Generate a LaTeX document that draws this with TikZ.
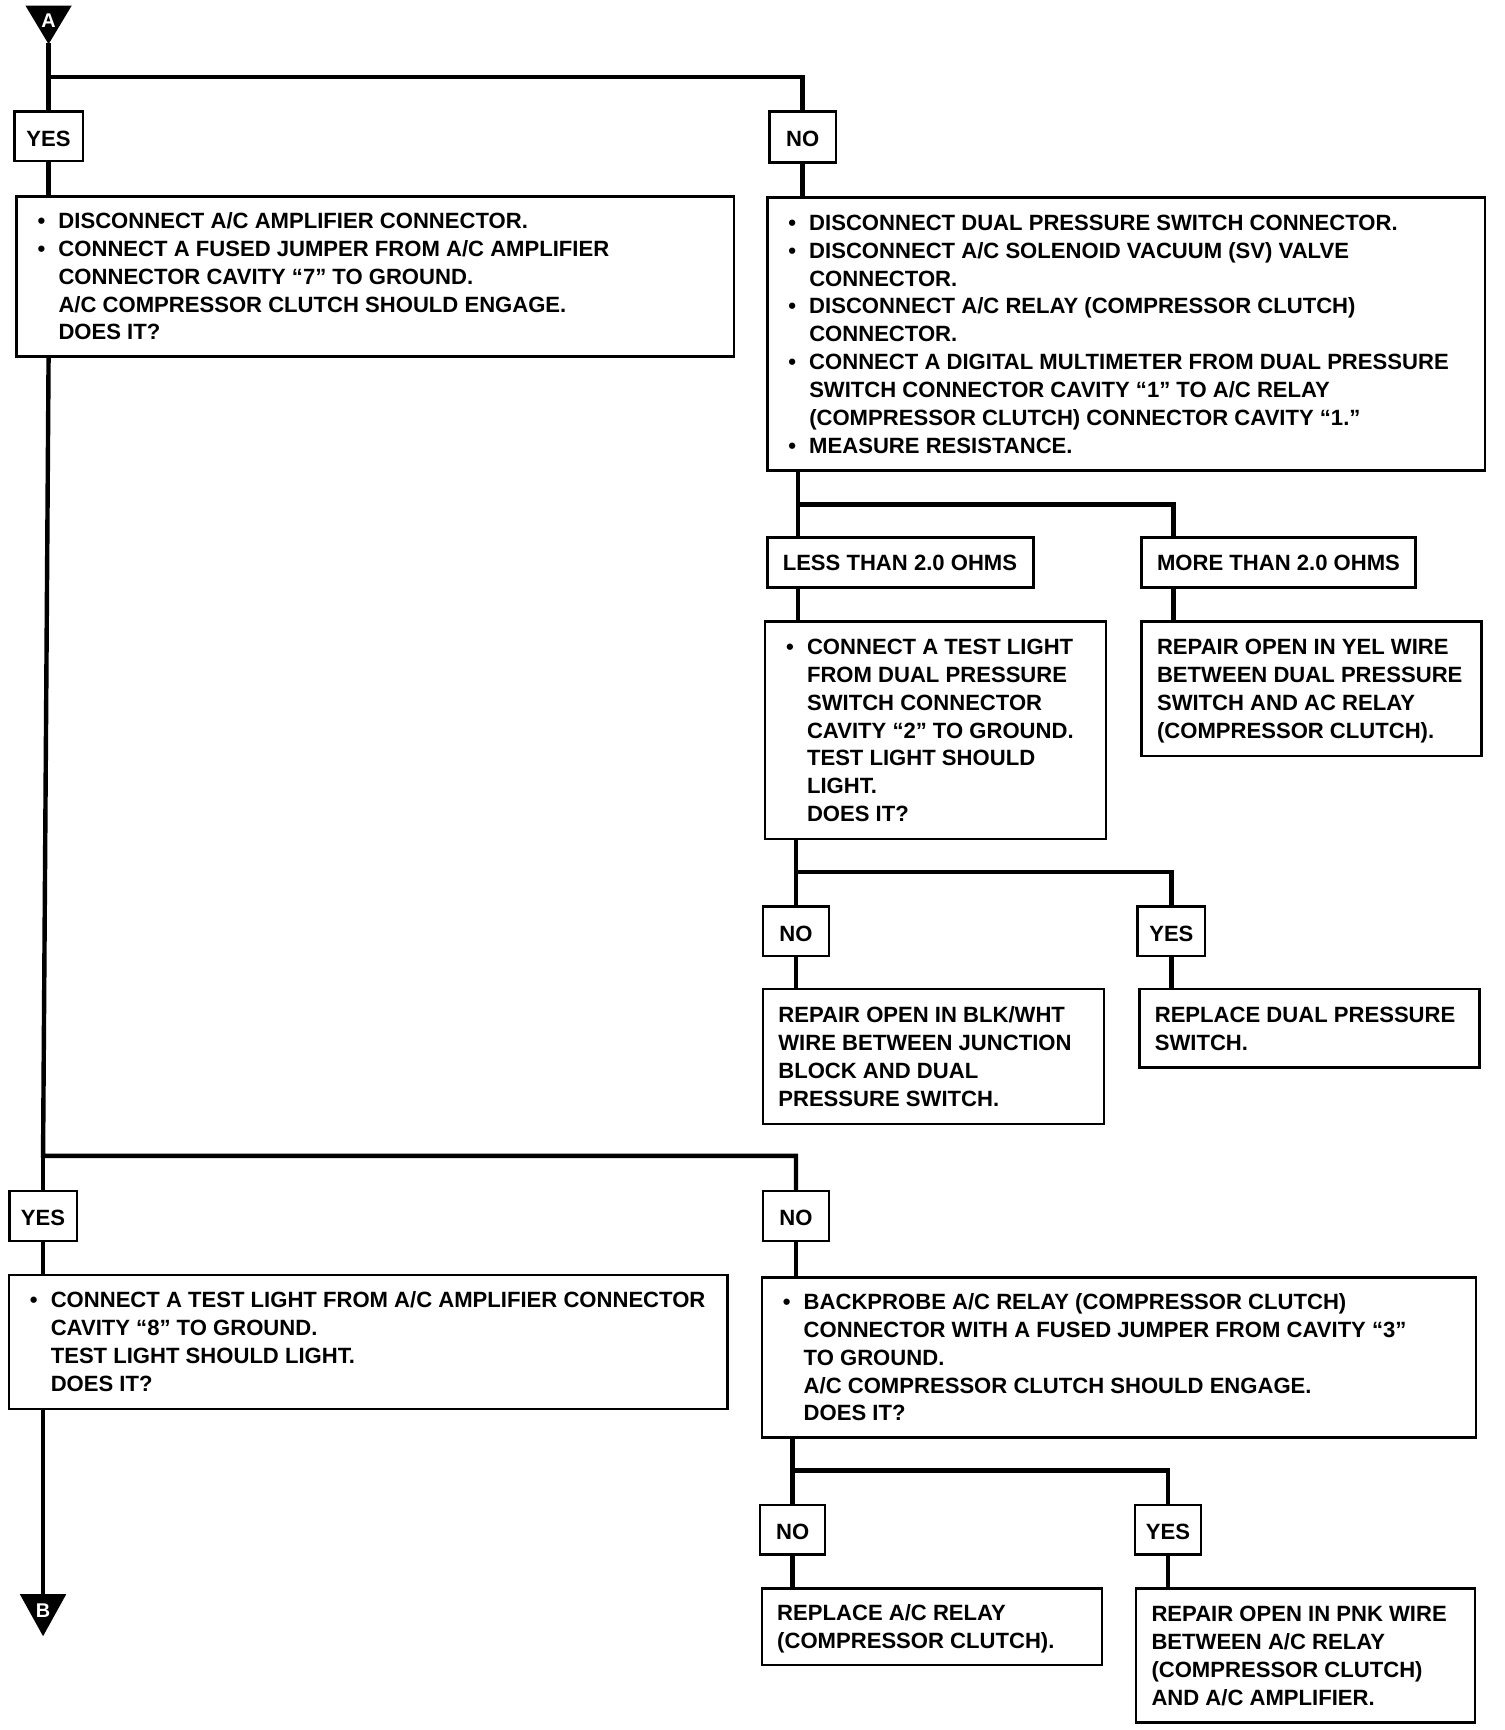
\documentclass[tikz,border=0pt]{standalone}
\usepackage{fontspec}
\setmainfont{Liberation Sans}
\newcommand\lw[1]{\raisebox{-1pt}[\height][\depth]{#1}}
\newcommand\tx[2]{\makebox[#1][l]{\hspace{7pt}\lw{\begin{tabular}{@{}l@{}}#2\end{tabular}}}}
\newcommand\bl{\makebox[12pt][l]{\hspace{2.5pt}\textbullet}}
\newcommand\ct{\hspace*{12pt}}
\tikzset{
  box/.style={draw, line width=1.1pt, rectangle, inner sep=0pt, fill=white,
    font=\fontsize{10}{12.6}\selectfont\bfseries},
  tag/.style={box, minimum height=22.5pt},
  conn/.style={line width=2pt, line join=miter},
  letter/.style={text=white, inner sep=0pt, font=\fontsize{9}{10}\selectfont\bfseries}
}
\begin{document}
\begin{tikzpicture}[x=0.5pt, y=-0.5pt]
\useasboundingbox (0,0) rectangle (1363,1567);

% connector triangle A
\fill (23,5) -- (65,5) -- (44,40) -- cycle;
\node[letter] (tA) at (44,19) {A};
\coordinate (tAtip) at (44,39);

% nodes
\node[tag, minimum width=31pt] (yes1) at (44,123.5) {\lw{YES}};
\node[tag, minimum width=30pt, minimum height=23pt] (no1) at (727,124) {\lw{NO}};

\node[box, minimum width=325pt, minimum height=72.5pt] (b1) at (340,250.5) {\tx{325pt}{%
\bl DISCONNECT A/C AMPLIFIER CONNECTOR.\\
\bl CONNECT A FUSED JUMPER FROM A/C AMPLIFIER\\
\ct CONNECTOR CAVITY “7” TO GROUND.\\
\ct A/C COMPRESSOR CLUTCH SHOULD ENGAGE.\\
\ct DOES IT?}};

\node[box, minimum width=325pt, minimum height=123.5pt] (b2) at (1020,302.5) {\tx{325pt}{%
\bl DISCONNECT DUAL PRESSURE SWITCH CONNECTOR.\\
\bl DISCONNECT A/C SOLENOID VACUUM (SV) VALVE\\
\ct CONNECTOR.\\
\bl DISCONNECT A/C RELAY (COMPRESSOR CLUTCH)\\
\ct CONNECTOR.\\
\bl CONNECT A DIGITAL MULTIMETER FROM DUAL PRESSURE\\
\ct SWITCH CONNECTOR CAVITY “1” TO A/C RELAY\\
\ct (COMPRESSOR CLUTCH) CONNECTOR CAVITY “1.”\\
\bl MEASURE RESISTANCE.}};

\node[tag, minimum width=120.5pt] (less) at (815.5,509.5) {\tx{120.5pt}{LESS THAN 2.0 OHMS}};
\node[tag, minimum width=124pt] (more) at (1158,509.5) {\tx{124pt}{MORE THAN 2.0 OHMS}};

\node[box, minimum width=154.5pt, minimum height=98.5pt] (b3) at (847.5,661.5) {\tx{154.5pt}{%
\bl CONNECT A TEST LIGHT\\
\ct FROM DUAL PRESSURE\\
\ct SWITCH CONNECTOR\\
\ct CAVITY “2” TO GROUND.\\
\ct TEST LIGHT SHOULD\\
\ct LIGHT.\\
\ct DOES IT?}};

\node[box, minimum width=154pt, minimum height=61pt] (b4) at (1188,624) {\tx{154pt}{%
REPAIR OPEN IN YEL WIRE\\
BETWEEN DUAL PRESSURE\\
SWITCH AND AC RELAY\\
(COMPRESSOR CLUTCH).}};

\node[tag, minimum width=30pt] (no2) at (721,843.5) {\lw{NO}};
\node[tag, minimum width=30.5pt] (yes2) at (1061,843.5) {\lw{YES}};

\node[box, minimum width=154.5pt, minimum height=61pt] (b5) at (845.5,957) {\tx{154.5pt}{%
REPAIR OPEN IN BLK/WHT\\
WIRE BETWEEN JUNCTION\\
BLOCK AND DUAL\\
PRESSURE SWITCH.}};

\node[box, minimum width=154pt, minimum height=35.5pt] (b6) at (1186,931.5) {\tx{154pt}{%
REPLACE DUAL PRESSURE\\
SWITCH.}};

\node[tag, minimum width=30.5pt] (yes3) at (39,1101.5) {\lw{YES}};
\node[tag, minimum width=30pt] (no3) at (721,1101.5) {\lw{NO}};

\node[box, minimum width=325.5pt, minimum height=60.5pt] (b7) at (333.5,1215.5) {\tx{325.5pt}{%
\bl CONNECT A TEST LIGHT FROM A/C AMPLIFIER CONNECTOR\\
\ct CAVITY “8” TO GROUND.\\
\ct TEST LIGHT SHOULD LIGHT.\\
\ct DOES IT?}};

\node[box, minimum width=323.5pt, minimum height=72.5pt] (b8) at (1013.5,1229.5) {\tx{323.5pt}{%
\bl BACKPROBE A/C RELAY (COMPRESSOR CLUTCH)\\
\ct CONNECTOR WITH A FUSED JUMPER FROM CAVITY “3”\\
\ct TO GROUND.\\
\ct A/C COMPRESSOR CLUTCH SHOULD ENGAGE.\\
\ct DOES IT?}};

\node[tag, minimum width=29.5pt] (no4) at (718,1385.5) {\lw{NO}};
\node[tag, minimum width=30pt] (yes4) at (1058,1385.5) {\lw{YES}};

\node[box, minimum width=154pt, minimum height=34.5pt] (b9) at (844,1473.5) {\tx{154pt}{%
REPLACE A/C RELAY\\
(COMPRESSOR CLUTCH).}};

\node[box, minimum width=153.5pt, minimum height=60.5pt] (b10) at (1182.5,1499.5) {\tx{153.5pt}{%
REPAIR OPEN IN PNK WIRE\\
BETWEEN A/C RELAY\\
(COMPRESSOR CLUTCH)\\
AND A/C AMPLIFIER.}};

% connector triangle B
\fill (18,1444) -- (60,1444) -- (39,1482) -- cycle;
\node[letter] (tB) at (39,1459) {B};
\coordinate (tBtop) at (39,1444);

% junction coordinates
\coordinate (j1) at (44,70);
\coordinate (j1r) at (727,70);
\coordinate (j2) at (723,457);
\coordinate (j2r) at (1063,457);
\coordinate (j3) at (721,790);
\coordinate (j3r) at (1061,790);
\coordinate (j4) at (39,1047);
\coordinate (j4r) at (721,1047);
\coordinate (j5) at (718,1332);
\coordinate (j5r) at (1058,1332);

% connectors
\draw[conn] (tAtip) -- (yes1);
\draw[conn] (j1) -- (j1r) -- (no1);
\draw[conn] (yes1) -- (yes1 |- b1.north);
\draw[conn] (no1) -- (no1 |- b2.north);

\draw[conn] (b1.south -| yes1) -- (j4) -- (j4r) -- (no3);
\draw[conn] (j4) -- (yes3);
\draw[conn] (yes3) -- (yes3 |- b7.north);
\draw[conn] (no3) -- (no3 |- b8.north);
\draw[conn] (b7.south -| yes3) -- (tBtop);

\draw[conn] (b2.south -| j2) -- (j2) -- (j2r) -- (j2r |- more.north);
\draw[conn] (j2) -- (j2 |- less.north);
\draw[conn] (j2 |- less.south) -- (j2 |- b3.north);
\draw[conn] (j2r |- more.south) -- (j2r |- b4.north);

\draw[conn] (b3.south -| j3) -- (j3) -- (j3r) -- (yes2);
\draw[conn] (j3) -- (no2);
\draw[conn] (no2) -- (no2 |- b5.north);
\draw[conn] (yes2) -- (yes2 |- b6.north);

\draw[conn] (b8.south -| j5) -- (j5) -- (j5r) -- (yes4);
\draw[conn] (j5) -- (no4);
\draw[conn] (no4) -- (no4 |- b9.north);
\draw[conn] (yes4) -- (yes4 |- b10.north);
\end{tikzpicture}
\end{document}
